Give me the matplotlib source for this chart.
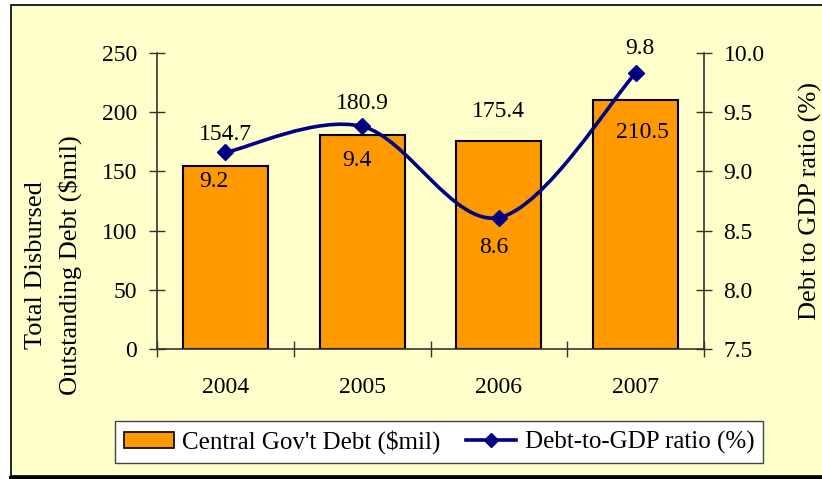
import numpy as np
import matplotlib
matplotlib.use('Agg')
from matplotlib import pyplot as plt
from matplotlib.path import Path
from matplotlib.patches import PathPatch, Rectangle, Patch
from matplotlib.lines import Line2D
from matplotlib.ticker import FormatStrFormatter

# chart data
years = ['2004', '2005', '2006', '2007']
debt = [154.7, 180.9, 175.4, 210.5]       # $mil
ratio = [9.16, 9.38, 8.61, 9.83]          # % of GDP

# label placement (pixels from the data point), tuned by eye
bar_label_offsets = [(0, 31), (0, 31), (0, 30), (7, -33)]
ratio_label_offsets = [(-12, -29), (-5, -34), (-5, -30), (4, 25)]

W, H = 822, 479
CREAM = '#FFFFCC'
ORANGE = '#FF9900'
NAVY = '#000080'
SPINE = '#333333'

plt.rcParams['font.family'] = ['Liberation Serif', 'DejaVu Serif']


def smooth_path(x, y):
    # excel-like smoothed line: cubic bezier, tangents (P[i+1]-P[i-1])/6
    pts = np.column_stack([x, y]).astype(float)
    padded = np.vstack([pts[0], pts, pts[-1]])
    verts = [pts[0]]
    codes = [Path.MOVETO]
    for i in range(len(pts) - 1):
        p0, p1, p2, p3 = padded[i], padded[i + 1], padded[i + 2], padded[i + 3]
        verts += [p1 + (p2 - p0) / 6, p2 - (p3 - p1) / 6, p2]
        codes += [Path.CURVE4] * 3
    return Path(verts, codes)


fig = plt.figure(figsize=(W / 100, H / 100), dpi=100)
fig.patch.set_facecolor('white')

# cream chart area with border
fig.add_artist(Rectangle((11 / W, 3 / H), 1.0, (476 - 5) / H,
                         transform=fig.transFigure, facecolor=CREAM,
                         edgecolor='black', linewidth=1.2, zorder=-2))
fig.add_artist(Line2D([11 / W, 1.0], [1.5 / H, 1.5 / H], transform=fig.transFigure,
                      color='black', linewidth=3, zorder=-1))

ax1 = fig.add_axes([157 / W, 1 - 349 / H, (704 - 157) / W, (349 - 53) / H])
ax1.set_facecolor('none')
ax2 = ax1.twinx()

x = np.arange(len(years))
ax1.bar(x, debt, width=0.62, color=ORANGE, edgecolor='black', linewidth=1.5, zorder=2)
ax1.set_xlim(-0.5, len(years) - 0.5)
ax1.set_ylim(0, 250)
ax1.set_yticks(np.arange(0, 251, 50))

ax2.set_ylim(7.5, 10.0)
ax2.set_yticks(np.arange(7.5, 10.01, 0.5))
ax2.yaxis.set_major_formatter(FormatStrFormatter('%.1f'))

# ticks between categories, labels at the centres
ax1.set_xticks(np.arange(-0.5, len(years), 1.0))
ax1.set_xticklabels([])
ax1.set_xticks(x, minor=True)
ax1.set_xticklabels(years, minor=True)
ax1.tick_params(axis='x', which='major', direction='inout', length=12, width=1, color=SPINE)
ax1.tick_params(axis='x', which='minor', length=0, pad=20, labelsize=17)
ax1.tick_params(axis='y', direction='inout', length=11, width=1, pad=9, labelsize=17, color=SPINE)
ax2.tick_params(axis='y', direction='inout', length=11, width=1, pad=8.5, labelsize=17, color=SPINE)

for sp in ['top', 'right']:
    ax1.spines[sp].set_visible(False)
for sp in ['top', 'left', 'bottom']:
    ax2.spines[sp].set_visible(False)
for sp in [ax1.spines['left'], ax1.spines['bottom'], ax2.spines['right']]:
    sp.set_color(SPINE)
    sp.set_linewidth(1.2)

# smoothed ratio line
ax2.add_patch(PathPatch(smooth_path(x, ratio), facecolor='none', edgecolor=NAVY,
                        linewidth=2.6, capstyle='round', joinstyle='round', zorder=3))
ax2.plot(x, ratio, linestyle='none', marker='D', color=NAVY, markersize=8, zorder=4)

for xi, v, off in zip(x, debt, bar_label_offsets):
    ax1.annotate(f'{v:.1f}', (xi, v), xytext=off, textcoords='offset pixels',
                 ha='center', va='center', fontsize=17, zorder=5)
for xi, v, off in zip(x, ratio, ratio_label_offsets):
    ax2.annotate(f'{v:.1f}', (xi, v), xytext=off, textcoords='offset pixels',
                 ha='center', va='center', fontsize=17, zorder=5)

fig.text(53.5 / W, 1 - 265 / H, 'Total Disbursed\nOutstanding Debt ($mil)',
         rotation=90, ha='center', va='center', fontsize=19, linespacing=1.55)
fig.text(810 / W, 1 - 201 / H, 'Debt to GDP ratio (%)',
         rotation=90, ha='center', va='center', fontsize=19)

handles = [Patch(facecolor=ORANGE, edgecolor='black', linewidth=1.2),
           Line2D([], [], color=NAVY, linewidth=2.6, marker='D', markersize=7)]
leg = fig.legend(handles, ["Central Gov't Debt ($mil)", 'Debt-to-GDP ratio (%)'],
                 loc='center', bbox_to_anchor=(439 / W, 1 - 442 / H), ncol=2,
                 frameon=True, fancybox=False, facecolor='white', edgecolor='#444444',
                 framealpha=1, fontsize=18, handlelength=2.0, handleheight=0.6,
                 handletextpad=0.35, columnspacing=1.0, borderpad=0.35)
leg.get_frame().set_linewidth(1)

fig.savefig('out.png', dpi=100)
